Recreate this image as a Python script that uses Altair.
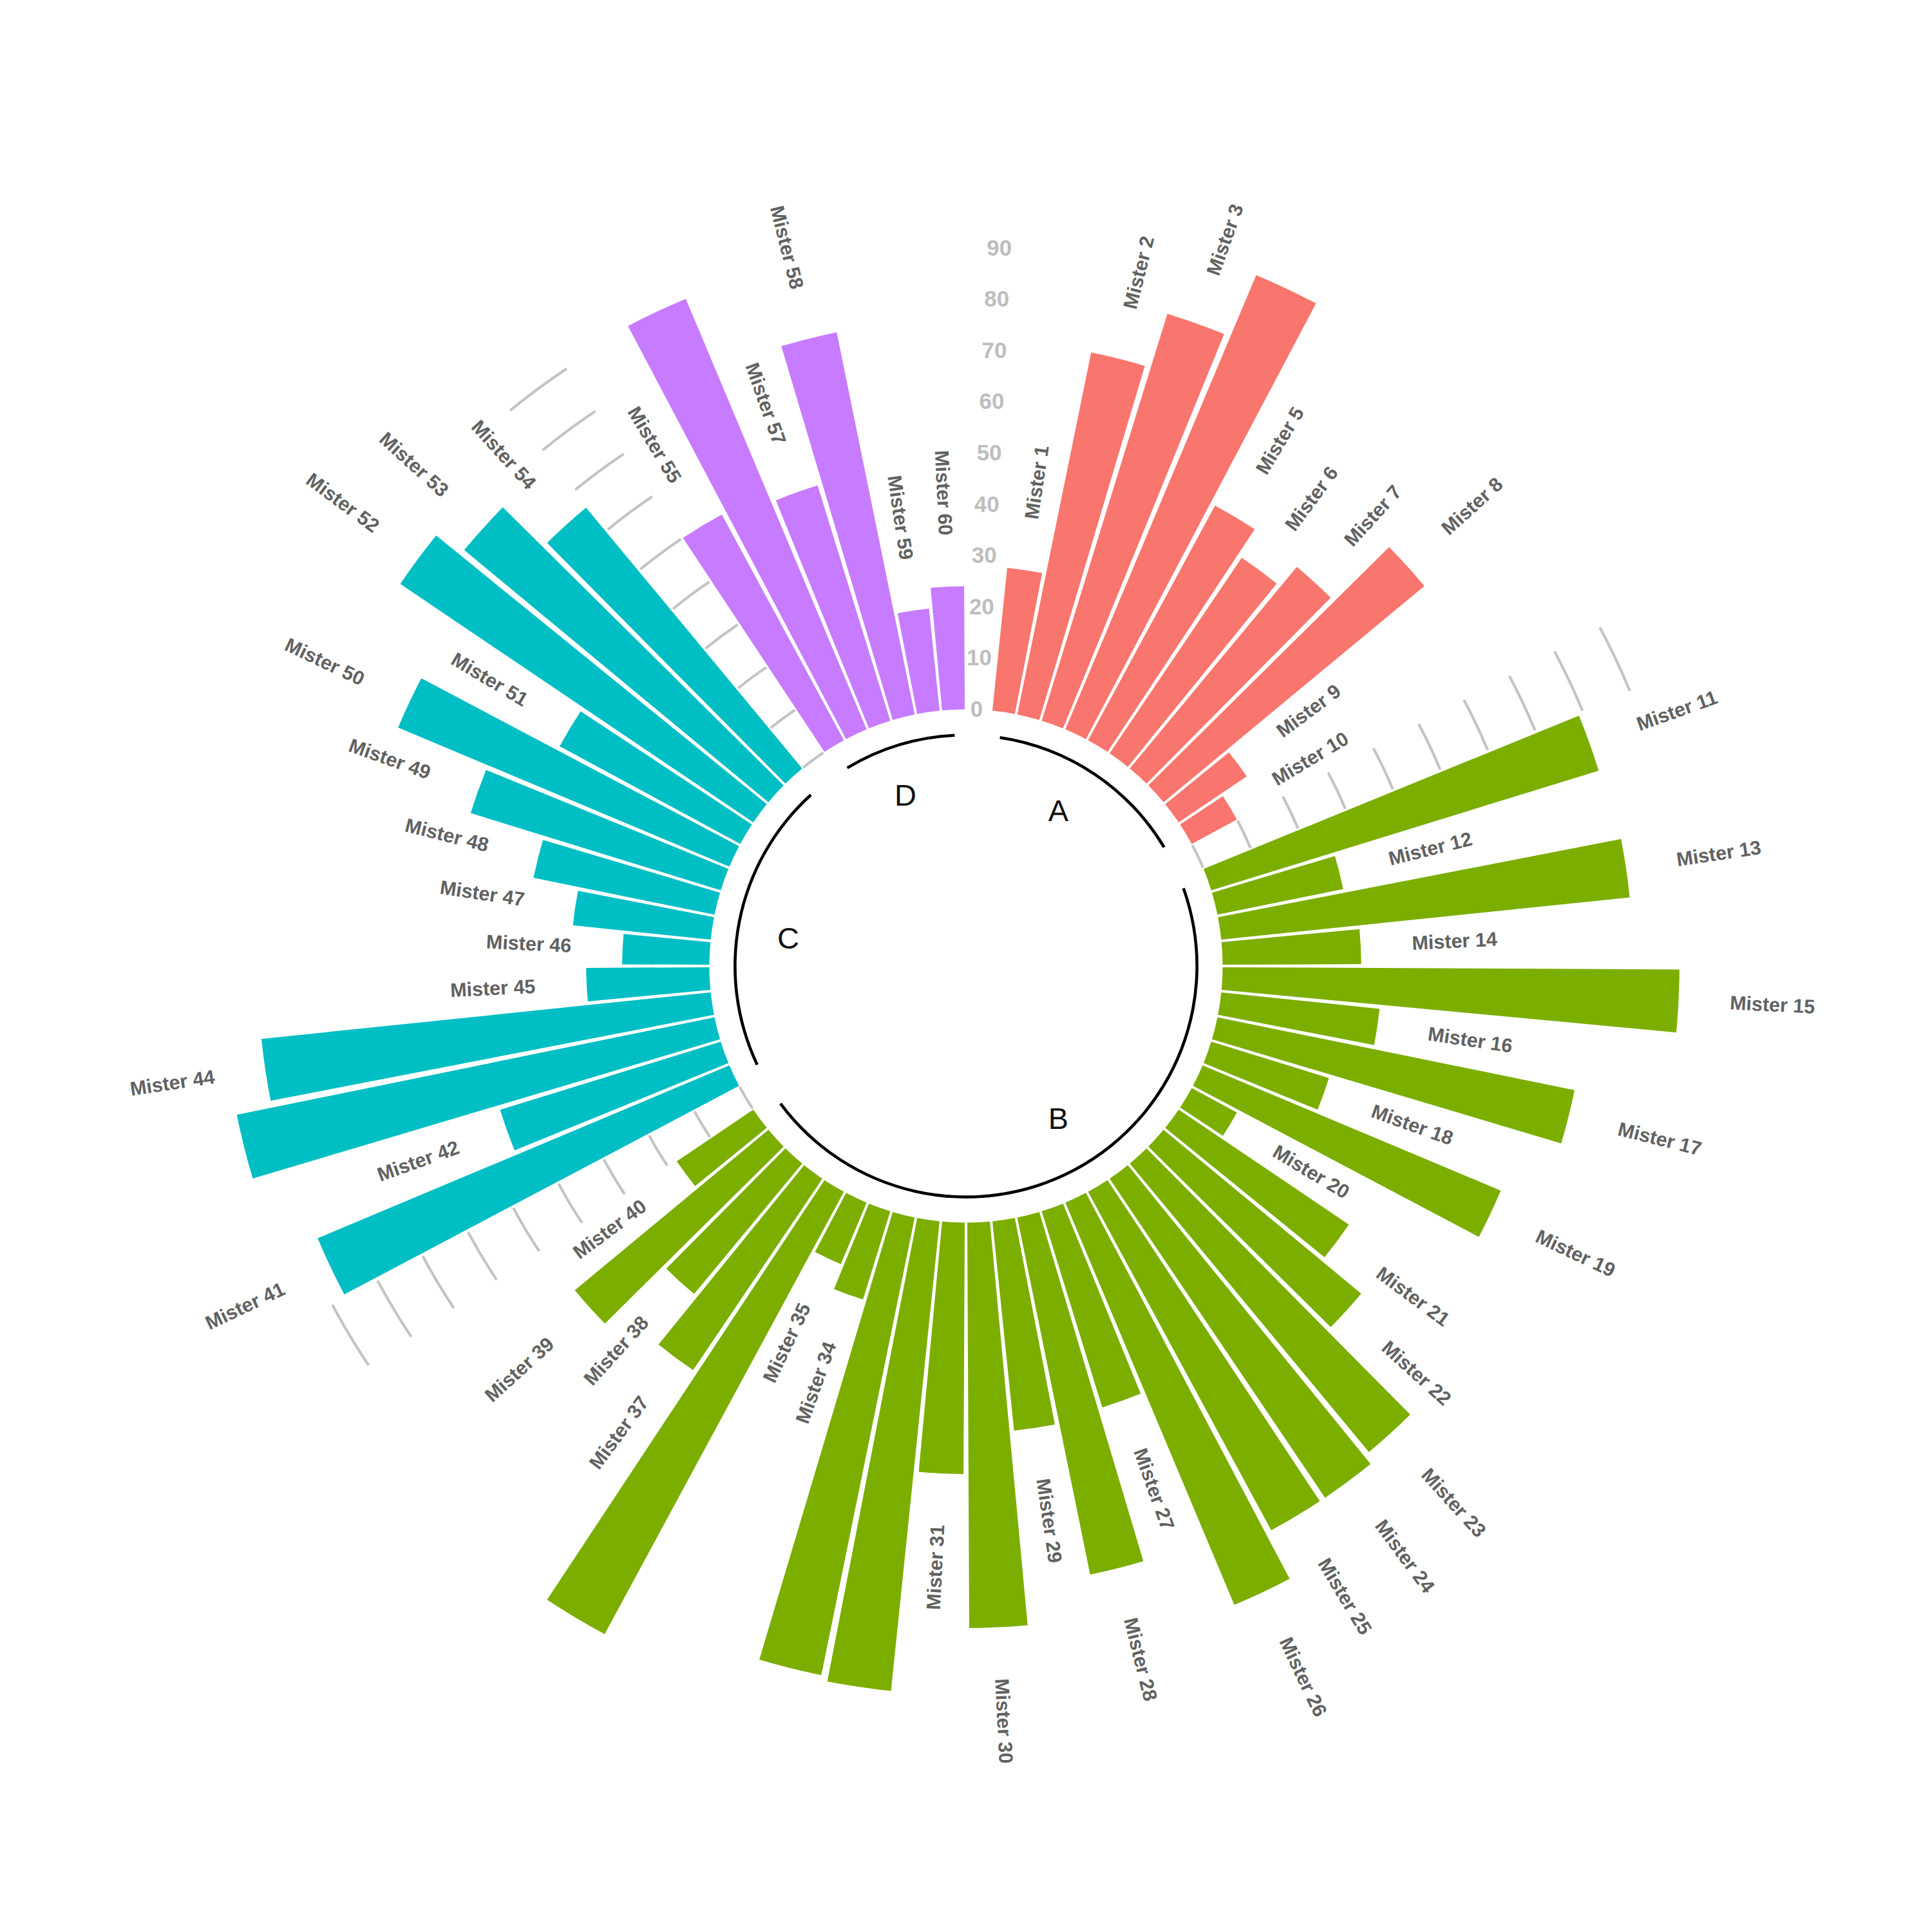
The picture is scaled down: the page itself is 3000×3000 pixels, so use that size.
import math
import altair as alt
import pandas as pd

# ---------------- data ----------------
groups = ["A", "B", "C", "D"]
group_sizes = [10, 30, 14, 6]
group_colors = ["#F8766D", "#7CAE00", "#00BFC4", "#C77CFF"]

names = [f"Mister {i}" for i in range(1, 61)]
values = [
    28, 72, 83, 96, 52, 46, 51, 66, 16, 10,            # A: Mister 1-10
    79, 25, 80, 27, 89, 31, 71, 24, 63, 10,            # B: Mister 11-20
    40, 50, 73, 75, 75, 85, 40, 71, 41, 79,            # B: Mister 21-30
    49, 92, 91, 18, 13, 98, 45, 33, 49, 18,            # B: Mister 31-40
    87, 45, 95, 88, 24, 17, 27, 36, 51, 70,            # C: Mister 41-50
    40, 83, 77, 66,                                    # C: Mister 51-54
    50, 91, 48, 76, 20, 24,                            # D: Mister 55-60
]
grid_values = [0, 10, 20, 30, 40, 50, 60, 70, 80, 90]
axis_labels = ["0", "10", "20", "30", "40", "50", "60", "70", "80", "90"]

Y_MIN, Y_MAX = -50, 100          # radial limits (like ylim)
LABEL_OFFSET = 10                # labels sit at value + 10
ARC_Y = -5                       # group baseline arcs
TITLE_Y = -15                    # group letters

# ---------------- layout of slots (one empty slot before each group) ----------------
rows, gaps, spans = [], [], []
slot, k = 0, 0
for g, size in zip(groups, group_sizes):
    slot += 1
    gaps.append(slot)
    first = slot + 1
    for _ in range(size):
        slot += 1
        rows.append(dict(name=names[k], group=g, value=values[k], id=slot))
        k += 1
    spans.append(dict(group=g, first=first, last=slot))
N_SLOTS = slot

bars = pd.DataFrame(rows)
bars["t0"] = bars["id"] - 1 + 0.05
bars["t1"] = bars["id"] - 0.05
bars["zero"] = 0

labels = bars.copy()
labels["tc"] = labels["id"] - 0.5
labels["lab_r"] = labels["value"] + LABEL_OFFSET
deg = labels["tc"] * 360.0 / N_SLOTS
labels["right_side"] = deg < 180
labels["ang"] = [((d - 90) if d < 180 else (d - 270)) % 360 for d in deg]

grid = pd.DataFrame(
    [dict(t0=gp - 1, t1=gp, v=v) for gp in gaps[1:] for v in grid_values]
)
axis_df = pd.DataFrame(dict(tc=[gaps[0] - 0.5] * len(grid_values), v=grid_values, lab=axis_labels))

span_df = pd.DataFrame(spans)
span_df["t0"] = span_df["first"] - 0.5
span_df["t1"] = span_df["last"] - 0.5
span_df["y"] = ARC_Y
span_df["title"] = (span_df["first"] - 1 + span_df["last"]) / 2 - 0.5
span_df["ty"] = TITLE_Y

# ---------------- scales ----------------
PX_PER_UNIT = 7.97
theta_scale = alt.Scale(domain=[0, N_SLOTS], range=[0, 2 * math.pi])
r_scale = alt.Scale(type="linear", domain=[Y_MIN, Y_MAX], range=[0, PX_PER_UNIT * (Y_MAX - Y_MIN)])

FONT = "Liberation Sans"

bar_layer = alt.Chart(bars).mark_arc().encode(
    theta=alt.Theta("t0:Q", scale=theta_scale, stack=False),
    theta2=alt.Theta2("t1:Q"),
    radius=alt.Radius("value:Q", scale=r_scale),
    radius2=alt.Radius2("zero:Q"),
    color=alt.Color("group:N", scale=alt.Scale(domain=groups, range=group_colors), legend=None),
)

grid_layer = alt.Chart(grid).mark_arc(color="#C4C4C4", radiusOffset=2.1, radius2Offset=-2.1).encode(
    theta=alt.Theta("t0:Q", scale=theta_scale, stack=False),
    theta2=alt.Theta2("t1:Q"),
    radius=alt.Radius("v:Q", scale=r_scale),
    radius2=alt.Radius2("v:Q"),
)

span_layer = alt.Chart(span_df).mark_arc(color="black", radiusOffset=2.3, radius2Offset=-2.3).encode(
    theta=alt.Theta("t0:Q", scale=theta_scale, stack=False),
    theta2=alt.Theta2("t1:Q"),
    radius=alt.Radius("y:Q", scale=r_scale),
    radius2=alt.Radius2("y:Q"),
)

def name_layer(right):
    return alt.Chart(labels).transform_filter(
        f"datum.lab_r <= {Y_MAX} && datum.right_side == {'true' if right else 'false'}"
    ).mark_text(
        align="left" if right else "right", baseline="middle", font=FONT,
        fontWeight="bold", fontSize=30.5, color="#616161",
    ).encode(
        theta=alt.Theta("tc:Q", scale=theta_scale, stack=False),
        radius=alt.Radius("lab_r:Q", scale=r_scale),
        text="name:N",
        angle=alt.Angle("ang:Q", scale=None),
    )

axis_layer = alt.Chart(axis_df).mark_text(
    align="center", baseline="middle", font=FONT, fontWeight="bold", fontSize=35, color="#BEBEBE", dx=-3
).encode(
    theta=alt.Theta("tc:Q", scale=theta_scale, stack=False),
    radius=alt.Radius("v:Q", scale=r_scale),
    text="lab:N",
)

title_layer = alt.Chart(span_df).mark_text(
    align="center", baseline="middle", font=FONT, fontSize=47, color="#111111"
).encode(
    theta=alt.Theta("title:Q", scale=theta_scale, stack=False),
    radius=alt.Radius("ty:Q", scale=r_scale),
    text="group:N",
)

chart = alt.layer(
    bar_layer, grid_layer, span_layer, name_layer(True), name_layer(False), axis_layer, title_layer
).properties(width=2984, height=2984, padding=0, background="white").configure_view(strokeWidth=0)

chart.save("out.html", embed_options={"renderer": "svg", "actions": False})
